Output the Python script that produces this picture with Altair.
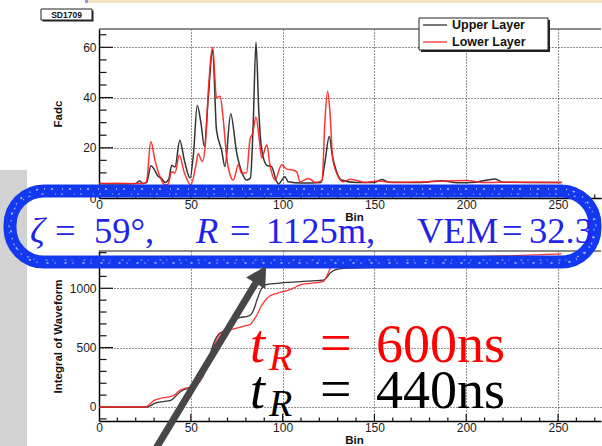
import altair as alt
import pandas as pd

# ---------------- data ----------------
# Fadc trace of the upper scintillator layer (bin, counts)
upper_bins = [0, 10, 20, 22, 24, 26, 28.3, 30, 32, 34, 36, 38, 39.6, 41.4, 44, 46.5, 49.6, 51.5,
              53.5, 55.5, 57.4, 59.5, 61.9, 64, 66.8, 68.6, 71.7, 75, 77.7, 80.4, 82.5, 84, 85.5,
              87, 88.5, 91.4, 94, 96.4, 97.7, 101.3, 103, 110, 121, 123, 125.4, 127.2, 129.4, 132,
              140, 150, 154, 158, 175, 186.6, 195, 205, 215.7, 220, 235, 252]
upper_fadc = [5.8, 5.6, 5.8, 6.8, 5.8, 6.2, 12.8, 11.5, 8.8, 7.8, 6.2, 7.5, 13, 12.3, 23, 15, 8, 18,
              36.8, 30, 20.5, 40, 59, 27, 19, 12.5, 33.6, 18, 10.5, 7.2, 8, 30, 62,
              35, 20, 13, 12.5, 7.2, 5.6, 8.5, 6.5, 6, 6.2, 14, 24.5, 16.5, 10.5, 7.2,
              6.2, 6.2, 7.4, 6.3, 6.2, 6.9, 6.1, 6.3, 7.6, 6.3, 6.2, 6.2]

# Fadc trace of the lower scintillator layer
lower_bins = [0, 10, 20, 25, 26, 28.2, 30.5, 33.2, 36, 37.6, 39.6, 41.4, 43.7, 46.5, 50, 53, 54,
              56.3, 58, 59.5, 61.9, 64, 65.9, 67.7, 69.5, 71.4, 73.2, 75.9, 77.7, 80.4, 82.2, 83.7,
              85.5, 87.3, 88.6, 91.4, 93.1, 95.9, 99.5, 102.2, 105, 107.6, 109.5, 114, 118, 121.5,
              123, 124.5, 125.8, 127.2, 129.4, 133, 137, 145, 152, 160, 175, 200, 210, 230, 252]
lower_fadc = [5.8, 5.9, 5.7, 5.9, 7, 22.5, 15, 8.5, 5.2, 5.5, 10.5, 10, 17, 10, 5.2, 14, 17.6,
              14.5, 22, 42, 60, 40, 40.5, 31, 16.5, 9.2, 7.2, 13.2, 9.9, 10.1, 23.2, 25.9,
              32.3, 23.2, 15.9, 21.2, 13.2, 7.2, 13.2, 11.5, 11.2, 10.5, 6.5, 7.8, 6.2, 7,
              30, 42.5, 34, 16.5, 10, 6.5, 7.5, 6.2, 6.8, 6.2, 6.4, 7.0, 6.2, 6.3, 6.2]

# Integrated waveforms
upper_int_bins = [0, 26, 28, 31, 35, 39, 41, 44, 47, 50, 52, 55, 58, 60.5, 63, 65, 68.6, 70, 72, 74,
                  77, 80.4, 82.5, 84.5, 86, 88.6, 90.4, 96.7, 109.5, 122, 124, 126, 129, 133, 150,
                  200, 252]
upper_int = [0, 0, 12, 35, 46, 55, 80, 125, 150, 160, 185, 268, 360, 445, 560, 610, 645, 665, 710, 740,
             755, 762, 775, 830, 900, 1000, 1028, 1042, 1056, 1068, 1090, 1130, 1158, 1168, 1175,
             1182, 1190]
lower_int_bins = [0, 25.5, 27, 29, 31, 34, 38, 41, 44, 47, 51, 55, 58, 60, 62, 64, 66, 69, 72, 76, 80,
                  82.2, 84, 86, 88, 90.4, 93, 97, 104, 109.5, 115, 122, 124, 126, 128, 131, 135,
                  150, 186, 220, 252]
lower_int = [0, 0, 15, 45, 62, 75, 85, 100, 140, 158, 168, 215, 300, 390, 480, 570, 620, 640, 652, 668,
             685, 692, 725, 775, 840, 895, 935, 958, 988, 1028, 1042, 1056, 1100, 1170, 1205, 1222,
             1230, 1240, 1258, 1272, 1290]

layer_names = ["Upper Layer", "Lower Layer"]
layer_colors = ["#1e1e1e", "#ff1f1f"]

bin_labels = [0, 50, 100, 150, 200, 250]
bin_minor = [10, 20, 30, 40, 60, 70, 80, 90, 110, 120, 130, 140, 160, 170, 180, 190,
             210, 220, 230, 240, 260, 270]
fadc_labels = [0, 20, 40, 60]
fadc_minor = [5, 10, 15, 25, 30, 35, 45, 50, 55, 65]
int_labels = [0, 500, 1000]
int_minor = [-100, 100, 200, 300, 400, 600, 700, 800, 900, 1100, 1200, 1300]

station = "SD1709"
rise_times = ["600ns", "440ns"]

# ---------------- layout ----------------
W, H_TOP, H_BOT = 502, 169, 170
BIN_DOMAIN = [0, 273.4]
FADC_DOMAIN = [0, 67.3]
INT_DOMAIN = [-118, 1314]
FONT = "Liberation Sans"
SERIF = "Liberation Serif"
BLUE = "#1238f0"

one = pd.DataFrame({"k": [0]})


def px_rect(x1, x2, y1, y2, **kw):
    return alt.Chart(one).mark_rect(**kw).encode(
        x=alt.value(x1), x2=alt.value(x2), y=alt.value(y1), y2=alt.value(y2))


def px_rule(x1, y1, x2, y2, **kw):
    return alt.Chart(one).mark_rule(**kw).encode(
        x=alt.value(x1), x2=alt.value(x2), y=alt.value(y1), y2=alt.value(y2))


def px_text(txt, x, y, **kw):
    kw.setdefault("align", "left")
    kw.setdefault("baseline", "alphabetic")
    return alt.Chart(one).mark_text(**kw).encode(
        x=alt.value(x), y=alt.value(y), text=alt.value(txt))


def x_axis():
    return alt.Axis(values=bin_labels, grid=True, ticks=False, title="Bin", format="d",
                    titleX=255, titleY=22, titleBaseline="alphabetic", labelPadding=1,
                    labelFlush=False)


def y_axis(vals, title, h):
    return alt.Axis(values=vals, grid=True, ticks=False, title=title, labelPadding=3, format="d",
                    titleAngle=270, titleX=-41, titleY=h / 2, titleAlign="center",
                    titleBaseline="middle")


def inward_ticks(xscale, yscale, yaxis, h, ymaj, ymin):
    """ROOT style ticks drawn inside the frame (same axes as the traces)."""
    layers = []
    for vals, ln in ((ymaj, 14), (ymin, 7.5)):
        layers.append(alt.Chart(pd.DataFrame({"value": vals})).mark_rule(color="#111", strokeWidth=1.2)
                      .encode(y=alt.Y("value:Q", scale=yscale, axis=yaxis),
                              x=alt.value(0), x2=alt.value(ln)))
    for vals, ln in ((bin_labels[1:], 7), (bin_minor, 3.5)):
        layers.append(alt.Chart(pd.DataFrame({"bin": vals})).mark_rule(color="#111", strokeWidth=1.2)
                      .encode(x=alt.X("bin:Q", scale=xscale, axis=x_axis()),
                              y=alt.value(h), y2=alt.value(h - ln)))
    return layers


def trace_layers(bins_u, vals_u, bins_l, vals_l, xscale, yscale, yaxis, width):
    out = []
    for name, color, b, v in ((layer_names[0], layer_colors[0], bins_u, vals_u),
                              (layer_names[1], layer_colors[1], bins_l, vals_l)):
        df = pd.DataFrame({"bin": b, "value": v, "layer": name})
        out.append(alt.Chart(df).mark_line(color=color, strokeWidth=width, interpolate="monotone",
                                           opacity=0.9)
                   .encode(x=alt.X("bin:Q", scale=xscale, axis=x_axis()),
                           y=alt.Y("value:Q", scale=yscale, axis=yaxis)))
    return out


xs = alt.Scale(domain=BIN_DOMAIN, nice=False, zero=False)

# ---------------- upper panel: Fadc ----------------
ys_top = alt.Scale(domain=FADC_DOMAIN, nice=False, zero=False)
ya_top = y_axis(fadc_labels, "Fadc", H_TOP)
top_layers = inward_ticks(xs, ys_top, ya_top, H_TOP, fadc_labels[1:], fadc_minor)
top_layers += trace_layers(upper_bins, upper_fadc, lower_bins, lower_fadc, xs, ys_top, ya_top, 1.5)
top_layers += [
    px_rule(0, 0, W, 0, color="#666", strokeWidth=1.5),
    # slide strip along the top edge
    px_rect(-11, 503, -29, -26, color="#f4e4c2"),
    px_rect(-14, -11, -29, -26, color="#7d9cff"),
    # station tag
    px_rect(-56.5, -5.5, -18.5, -7.5, color="#222"),
    px_rect(-58, -7, -20, -9, fill="white", stroke="#222", strokeWidth=1),
    px_text(station, -32.5, -14.5, align="center", baseline="middle", font=FONT,
            fontSize=8.5, fontWeight="bold", color="#111"),
    # legend
    px_rect(322, 451, -9, 23, color="#222"),
    px_rect(320, 449, -11, 21, fill="white", stroke="#222", strokeWidth=1),
    px_rule(324, -4, 348, -4, color=layer_colors[0], strokeWidth=1.2),
    px_rule(324, 13, 348, 13, color=layer_colors[1], strokeWidth=1.2),
    px_text(layer_names[0], 353, -4, baseline="middle", font=FONT, fontSize=12.5,
            fontWeight="bold", color="#111"),
    px_text(layer_names[1], 353, 12.5, baseline="middle", font=FONT, fontSize=12.5,
            fontWeight="bold", color="#111"),
]
top = alt.layer(*top_layers).properties(width=W, height=H_TOP)

# ---------------- lower panel: integral ----------------
ys_bot = alt.Scale(domain=INT_DOMAIN, nice=False, zero=False)
ya_bot = y_axis(int_labels, "Integral of Waveform", H_BOT)
bot_layers = inward_ticks(xs, ys_bot, ya_bot, H_BOT, int_labels[1:], int_minor)
bot_layers += trace_layers(upper_int_bins, upper_int, lower_int_bins, lower_int, xs, ys_bot,
                           ya_bot, 1.3)
bot_layers.append(px_rule(0, 0, W, 0, color="#666", strokeWidth=1.5))

# rise time annotations
for i, (txt, col) in enumerate(zip(rise_times, ["#ff0000", "#000000"])):
    base = 111 + 46 * i
    bot_layers += [
        px_text("t", 151, base, font=SERIF, fontSize=54, fontStyle="italic", color=col),
        px_text("R", 170, base + 8, font=SERIF, fontSize=38, fontStyle="italic", color=col),
        px_text("=", 221, base, font=SERIF, fontSize=56, color=col),
        px_text(txt, 277, base, font=SERIF, fontSize=54, color=col),
    ]

# grey slide margin on the left
bot_layers.append(px_rect(-99, -72, -81, 200, color="#d2d2d2"))

# hand-drawn highlight around the shower parameters
bot_layers += [
    px_rect(-89, 496, -60, 11, fillOpacity=0, stroke=BLUE, strokeWidth=13, cornerRadius=34),
    px_rect(-88, 495, -62, 12, fillOpacity=0, stroke="white", strokeWidth=1.6,
            strokeDash=[1, 6, 2, 9], cornerRadius=33, opacity=0.7),
    px_rect(-90, 497, -57, 9, fillOpacity=0, stroke="white", strokeWidth=1.2,
            strokeDash=[2, 11, 1, 5], cornerRadius=34, opacity=0.6),
]
info = [("ζ", -69, "italic"), ("=", -44, "normal"), ("59°,", -5, "normal"),
        ("R", 97, "italic"), ("=", 131, "normal"), ("1125m,", 167, "normal"),
        ("VEM", 318, "normal"), ("=", 403, "normal"), ("32.3", 430, "normal")]
for txt, x, style in info:
    bot_layers.append(px_text(txt, x, -8, font=SERIF, fontSize=36.5, fontStyle=style,
                              color="#2222e8"))

# arrow pointing at the integral
bot_layers += [
    px_rule(55.4, 200, 156.7, 32, color="#474747", strokeWidth=7),
    alt.Chart(one).mark_point(shape="M -1 0.9 L 0 -0.9 L 1 0.9 Z", filled=True, size=500,
                              angle=31, color="#474747", opacity=1)
    .encode(x=alt.value(161.9), y=alt.value(23.6)),
]
bottom = alt.layer(*bot_layers).properties(width=W, height=H_BOT)

chart = (
    alt.vconcat(top, bottom, spacing=53, bounds="flush")
    .properties(autosize=alt.AutoSizeParams(type="none"),
                padding={"left": 99, "top": 29, "right": 1, "bottom": 417})
    .configure_view(stroke=None)
    .configure_axis(labelFont=FONT, labelFontSize=12, labelColor="#1a1a1a",
                    titleFont=FONT, titleFontSize=11.5, titleFontWeight="bold", titleColor="#111",
                    domainColor="#000", domainWidth=1.5, gridColor="#222", gridDash=[1, 2],
                    gridWidth=1, gridOpacity=1)
)

chart.save("out.html", embed_options={"renderer": "svg", "actions": False})
